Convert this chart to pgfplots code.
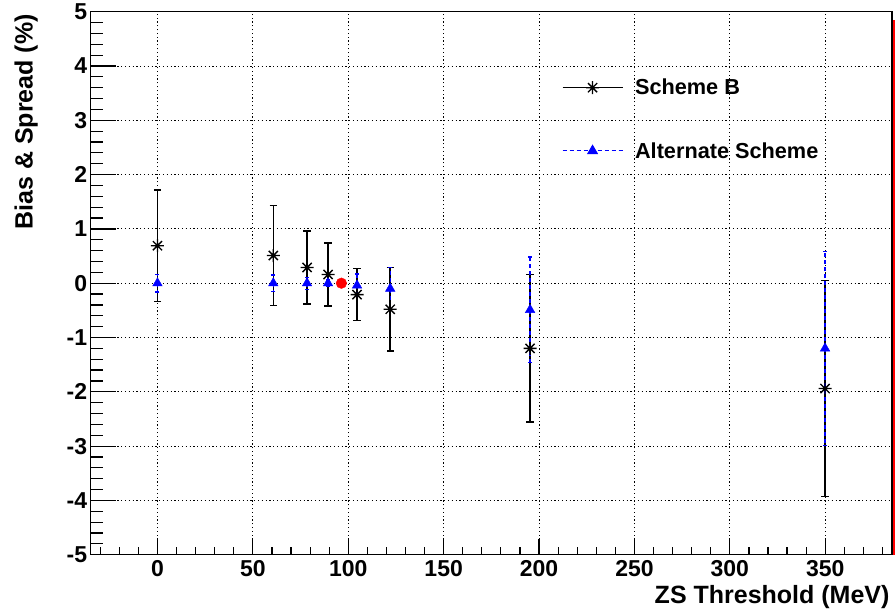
\documentclass[border=0pt]{standalone}
\usepackage{fontspec}
\setmainfont{Liberation Sans}
\usepackage{pgfplots}
\pgfplotsset{compat=1.18}

\pgfdeclareplotmark{rootstar}{%
  \pgfpathmoveto{\pgfqpoint{-\pgfplotmarksize}{0pt}}\pgfpathlineto{\pgfqpoint{\pgfplotmarksize}{0pt}}%
  \pgfpathmoveto{\pgfqpoint{0pt}{-\pgfplotmarksize}}\pgfpathlineto{\pgfqpoint{0pt}{\pgfplotmarksize}}%
  \pgfpathmoveto{\pgfqpoint{-0.707\pgfplotmarksize}{-0.707\pgfplotmarksize}}\pgfpathlineto{\pgfqpoint{0.707\pgfplotmarksize}{0.707\pgfplotmarksize}}%
  \pgfpathmoveto{\pgfqpoint{-0.707\pgfplotmarksize}{0.707\pgfplotmarksize}}\pgfpathlineto{\pgfqpoint{0.707\pgfplotmarksize}{-0.707\pgfplotmarksize}}%
  \pgfusepathqstroke
  \pgfpathcircle{\pgfpointorigin}{0.3\pgfplotmarksize}\pgfusepathqfill
}

\begin{document}
\begin{tikzpicture}
\begin{axis}[name=main,
  scale only axis, width=801.3pt, height=543pt,
  xmin=-35, xmax=385, ymin=-5, ymax=5,
  clip=false,
  axis line style={line width=1.3pt},
  tick pos=left, tick align=inside,
  xtick={0,50,100,150,200,250,300,350},
  xticklabels={0,50,100,150,200,250,300,350},
  xtick style={draw=none},
  ytick={-5,-4,-3,-2,-1,0,1,2,3,4,5},
  yticklabels={-5,-4,-3,-2,-1,0,1,2,3,4,5},
  minor ytick={-4.8,-4.6,...,4.8},
  ytick style={line width=1.2pt, black},
  major tick length=25pt, minor tick length=12pt,
  grid=major,
  major grid style={black, line width=0.9pt, dash pattern=on 1.2pt off 2.6pt},
  tick label style={font=\fontsize{23}{23}\selectfont\bfseries},
  xticklabel style={yshift=-2.5pt},
  legend style={at={(rel axis cs:0.588,0.88)}, anchor=north west, draw=none, fill=none,
    inner sep=0pt, row sep=42pt, font=\fontsize{21.7}{21.7}\selectfont\bfseries,
    nodes={inner sep=2pt}, /tikz/every odd column/.append style={column sep=10pt}},
  legend cell align=left,
  legend image code/.code={\draw[mark repeat=2,mark phase=2,#1] plot coordinates {(0pt,0pt) (30pt,0pt) (60pt,0pt)};},
]
\addlegendimage{black, line width=1pt, mark=rootstar, mark size=6.5pt, mark options={line width=1.3pt}}
\addlegendentry{Scheme B}
\addlegendimage{blue, line width=1pt, dash pattern=on 4pt off 3pt, mark=triangle*, mark size=5.5pt, mark options={solid}}
\addlegendentry{Alternate Scheme}

\addplot[forget plot, only marks, mark=rootstar, mark size=6.5pt, black, line width=1.4pt,
  error bars/.cd, y dir=both, y explicit,
  error bar style={line width=1.5pt, black, solid},
  error mark options={rotate=90, mark size=3.6pt, line width=1.5pt, black}]
  coordinates {
  (0,0.69) +- (0,1.03)
  (60.7,0.51) +- (0,0.92)
  (78.4,0.29) +- (0,0.67)
  (89.4,0.16) +- (0,0.58)
  (104.6,-0.21) +- (0,0.48)
  (122,-0.48) +- (0,0.77)
  (195.3,-1.2) +- (0,1.36)
  (349.9,-1.94) +- (0,1.99)
  };

\addplot[forget plot, only marks, mark=triangle*, mark size=5.5pt, blue,
  error bars/.cd, y dir=both, y explicit,
  error bar style={line width=1.3pt, blue, dash pattern=on 4pt off 3pt},
  error mark options={rotate=90, mark size=2pt, line width=1.3pt, blue}]
  coordinates {
  (0,0) +- (0,0.16)
  (60.7,0) +- (0,0.15)
  (78.4,0) +- (0,0.11)
  (89.4,0) +- (0,0.06)
  (104.6,-0.04) +- (0,0.21)
  (122,-0.1) +- (0,0.39)
  (195.3,-0.49) +- (0,0.975)
  (349.9,-1.2) +- (0,1.79)
  };

\addplot[forget plot, only marks, mark=*, red, mark size=5.3pt] coordinates {(96.4,0)};

\addplot[forget plot, red, line width=2pt] coordinates {(385.8,-5) (385.8,4.85)};
\end{axis}

\begin{axis}[
  scale only axis, width=801.3pt, height=543pt,
  xmin=-35, xmax=385, ymin=-5, ymax=5,
  axis line style={draw=none},
  tick pos=left, tick align=inside,
  xtick={0,50,100,150,200,250,300,350},
  xticklabels={},
  minor xtick={-30,-20,...,380},
  ytick=\empty,
  major tick length=16pt, minor tick length=8pt,
  xtick style={line width=1.2pt, black},
]
\end{axis}

\node[rotate=90, anchor=base east, font=\fontsize{25}{25}\selectfont\bfseries]
  at ([shift={(-58pt,1pt)}]main.north west) {Bias \& Spread (\%)};
\node[anchor=base east, font=\fontsize{25}{25}\selectfont\bfseries]
  at ([shift={(1pt,-48.6pt)}]main.south east) {ZS Threshold (MeV)};

\pgfresetboundingbox
\path ([shift={(-90.7pt,-59.3pt)}]main.south west) rectangle ([shift={(3pt,11.7pt)}]main.north east);
\end{tikzpicture}
\end{document}
